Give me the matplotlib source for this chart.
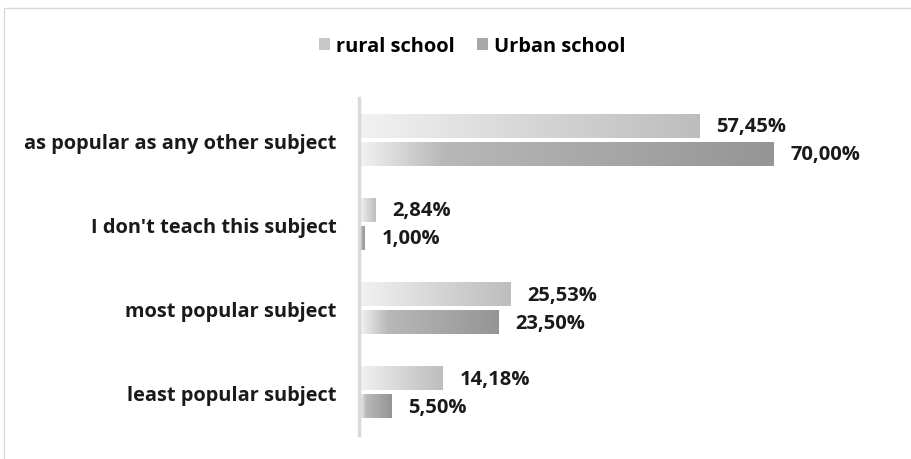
import numpy as np
import matplotlib.pyplot as plt
from matplotlib.colors import LinearSegmentedColormap
from matplotlib.patches import Patch, Rectangle

categories = ["as popular as any other subject", "I don't teach this subject",
              "most popular subject", "least popular subject"]
rural = [57.45, 2.84, 25.53, 14.18]
urban = [70.00, 1.00, 23.50, 5.50]
series_names = ["rural school", "Urban school"]

plt.rcParams['font.family'] = ['Open Sans', 'DejaVu Sans']

rural_cmap = LinearSegmentedColormap.from_list("rural", ["#f2f2f2", "#d6d6d6", "#bdbdbd"])
urban_cmap = LinearSegmentedColormap.from_list(
    "urban", [(0, "#f2f2f2"), (0.2, "#b8b8b8"), (1, "#959595")])

fig = plt.figure(figsize=(9.12, 4.60), dpi=100)
ax = fig.add_axes([359 / 912, 24 / 460, 474 / 912, 337 / 460])

grad = np.linspace(0, 1, 256).reshape(1, -1)
h = 0.273
off = 0.166
y = np.arange(len(categories))

for i in range(len(categories)):
    for vals, cmap, dy in [(rural, rural_cmap, -off), (urban, urban_cmap, off)]:
        v = vals[i]
        ax.imshow(grad, cmap=cmap, aspect='auto', interpolation='bilinear',
                  extent=[0.2, v, y[i] + dy + h / 2, y[i] + dy - h / 2])
        ax.text(v + 2.8, y[i] + dy, f"{v:.2f}%".replace('.', ','),
                va='center', ha='left', fontsize=14.5, fontweight='bold', color='#1a1a1a')

ax.set_xlim(0, 80)
ax.set_ylim(len(categories) - 0.5, -0.5)
ax.set_yticks(y)
ax.set_yticklabels(categories, fontsize=14.4, fontweight='bold', color='#1a1a1a')
ax.tick_params(axis='y', length=0, pad=16)
ax.set_xticks([])
for s in ['top', 'right', 'bottom']:
    ax.spines[s].set_visible(False)
ax.spines['left'].set_color('#d9d9d9')
ax.spines['left'].set_linewidth(2.5)

handles = [Patch(facecolor="#c8c8c8", edgecolor='none'),
           Patch(facecolor="#a8a8a8", edgecolor='none')]
fig.legend(handles, series_names, loc='center', bbox_to_anchor=(472 / 912, 1 - 47 / 460),
           ncol=2, frameon=False, handlelength=0.55, handleheight=0.55, handletextpad=0.3,
           columnspacing=1.1, prop={'weight': 'bold', 'size': 14.4})

fig.add_artist(Rectangle((4 / 912, -0.1), 1.2, 1.1 - 9 / 460, transform=fig.transFigure,
                         fill=False, edgecolor='#d9d9d9', linewidth=1))

fig.savefig("out.png", dpi=100)
